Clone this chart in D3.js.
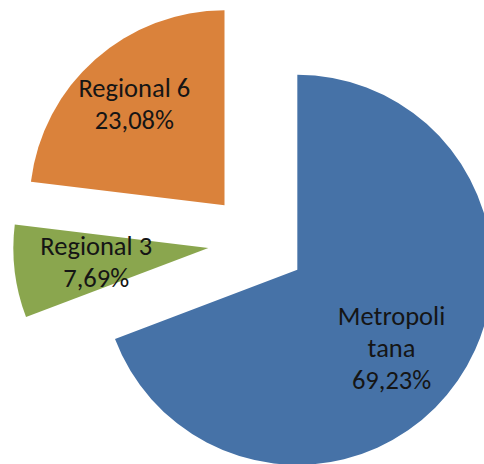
<!DOCTYPE html>
<html>
<head>
<meta charset="utf-8">
<script src="https://cdn.jsdelivr.net/npm/d3@7"></script>
<style>
html,body{margin:0;padding:0;background:#fff;overflow:hidden;}
svg{display:block;}
</style>
</head>
<body>
<script>
// ---- data ----
const categories = ["Metropolitana", "Regional 3", "Regional 6"];
const values = [69.23, 7.69, 23.08];
const labelNames = [["Metropoli", "tana"], ["Regional 3"], ["Regional 6"]];
const colors = ["#4672a7", "#8aa64e", "#da823b"];

// ---- layout ----
const W = 484, H = 464;
const cx = 257, cy = 242, R = 195, explode = 49;
const labelR = [172, 162, 185];
const labelNudge = [[-7, 8], [0, 0], [0, 0]];
const lineH = 32;

const svg = d3.select("body").append("svg").attr("width", W).attr("height", H);
const g = svg.append("g").attr("transform", `translate(${cx},${cy})`);

const rows = categories.map((c, i) => ({cat: c, value: values[i], i}));
const pie = d3.pie().sort(null).value(d => d.value);
const arcs = pie(rows);
const arc = d3.arc().innerRadius(0).outerRadius(R);
const fmt = v => d3.format(".2f")(v).replace(".", ",") + "%";

const slice = g.selectAll("g.slice").data(arcs).join("g")
  .attr("class", "slice")
  .attr("transform", d => {
    const m = (d.startAngle + d.endAngle) / 2;
    return `translate(${explode * Math.sin(m)},${-explode * Math.cos(m)})`;
  });

slice.append("path").attr("d", arc).attr("fill", d => colors[d.data.i]);

arcs.forEach(d => {
  const i = d.data.i;
  const lr = d3.arc().innerRadius(labelR[i]).outerRadius(labelR[i]);
  const [x, y] = lr.centroid(d);
  const px = x + labelNudge[i][0], py = y + labelNudge[i][1];
  const lines = labelNames[i].concat([fmt(d.data.value)]);
  const n = lines.length;
  const first = py - (n - 1) * lineH / 2 + 9;
  const t = g.append("text")
    .attr("text-anchor", "middle")
    .attr("font-family", "Carlito, Calibri, Lato, 'Open Sans', sans-serif")
    .attr("font-size", 26.5)
    .attr("fill", "#151515");
  lines.forEach((s, k) => {
    t.append("tspan").attr("x", px).attr("y", first + k * lineH).text(s);
  });
});
</script>
</body>
</html>
